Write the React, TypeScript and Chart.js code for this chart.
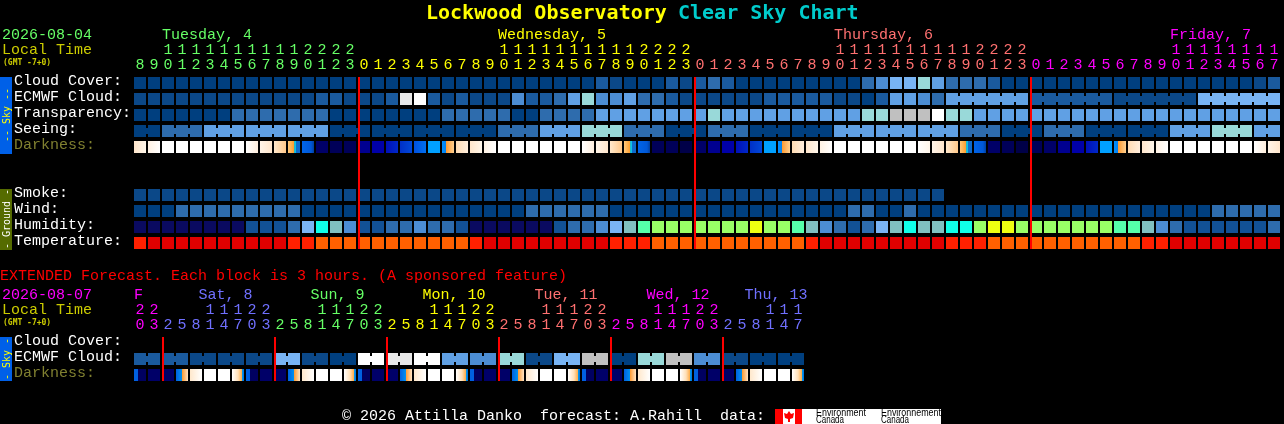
import React, { useEffect, useRef } from "react";
import { Chart, registerables } from "chart.js";

Chart.register(...registerables);

const MONO = '"Liberation Mono", monospace';
const TITLE_FONT = '"DejaVu Sans Mono", monospace';
const GREEN = "#66ff66";
const YELLOW = "#ffff00";
const SALMON = "#ff7070";
const MAGENTA = "#ff00ff";
const BLUE = "#7070ff";
const OLIVE_TEXT = "#cccc00";

const skyPalette = ["#003f7f", "#0b4888", "#1a5a9e", "#2e6cad", "#4c8dd3", "#60a0e4", "#78b4f4", "#99d9d9", "#c0c0c0", "#e8e8e8", "#ffffff"];
const humidityPalette = ["#0a0a60", "#125195", "#2e6cad", "#4c8dd3", "#7ab4f4", "#80c0c0", "#10ffe8", "#55ffaa", "#99ff66", "#eeff11"];
const temperaturePalette = ["#e00000", "#ff2000", "#ff6000"];

type Stops = [number, string][];
const darknessStops: Record<string, Stops> = {
  W: [[0, "#ffffff"], [1, "#ffffff"]],
  m0: [[0, "#ffdcb4"], [1, "#ffeedd"]],
  m1: [[0, "#ffe6cc"], [1, "#fff6ea"]],
  m2: [[0, "#fff2e4"], [1, "#ffffff"]],
  e0: [[0, "#ffffff"], [1, "#fff6ea"]],
  e1: [[0, "#ffffff"], [1, "#ffeedd"]],
  e2: [[0, "#fff4e8"], [1, "#ffe6cc"]],
  e3: [[0, "#ffe8cc"], [1, "#ffc88a"]],
  dusk: [[0, "#ffc87a"], [0.48, "#ffa030"], [0.5, "#30b0c0"], [0.66, "#00c8f0"], [0.67, "#0f6acc"], [1, "#0f6acc"]],
  dusk2: [[0, "#0064e8"], [0.75, "#0058d8"], [1, "#0040a0"]],
  dawn: [[0, "#0090ff"], [0.32, "#0080f0"], [0.34, "#ff9a30"], [1, "#ffd090"]],
  N0: [[0, "#000048"], [1, "#000048"]],
  N1: [[0, "#000058"], [1, "#000058"]],
  N2: [[0, "#000068"], [1, "#000068"]],
  N3: [[0, "#000090"], [1, "#000090"]],
  N4: [[0, "#0000a8"], [1, "#0000a8"]],
  B1: [[0, "#0010b8"], [1, "#0028c8"]],
  B2: [[0, "#0030c8"], [1, "#0048d8"]],
  B3: [[0, "#0050e0"], [1, "#0070f0"]],
  B4: [[0, "#00a0ff"], [1, "#00a0ff"]],
  xDusk: [[0, "#0060e0"], [0.32, "#0060e0"], [0.34, "#000060"], [1, "#000060"]],
  xDawn: [[0, "#0060e0"], [0.48, "#0090f0"], [0.5, "#ff9a30"], [1, "#ffe4c4"]],
  xMorn: [[0, "#ffe8cc"], [1, "#ffffff"]],
  xEve: [[0, "#ffffff"], [0.5, "#ffe0b8"], [0.8, "#ffb050"], [0.83, "#00a0f0"], [1, "#0070e0"]],
};

const hours = [8,9,10,11,12,13,14,15,16,17,18,19,20,21,22,23,
  0,1,2,3,4,5,6,7,8,9,10,11,12,13,14,15,16,17,18,19,20,21,22,23,
  0,1,2,3,4,5,6,7,8,9,10,11,12,13,14,15,16,17,18,19,20,21,22,23,
  0,1,2,3,4,5,6,7,8,9,10,11,12,13,14,15,16,17];
const hourColors = [
  ...Array(16).fill(GREEN), ...Array(24).fill(YELLOW), ...Array(24).fill(SALMON), ...Array(18).fill(MAGENTA),
];

const cloudCover = [
  0,0,0,0,0,0,0,0,0,0, 0,0,0,0,0,0,0,0,0,0, 0,0,0,0,0,0,0,0,0,0,
  0,0,0,2,1,0,0,0,2,1, 2,3,2,0,0,0,0,0,0,0, 0,0,3,4,6,6,7,5,3,3,
  3,2,0,0,0,0,0,0,0,0, 0,0,0,0,0,0,0,0,0,0, 1,2];
const ecmwfCloud = [
  1,1,1,1,1,1,1,1,1,1, 1,1,1,2,2,1,1,1,2,9, 10,2,1,2,1,1,1,4,2,2,
  3,5,7,4,4,5,3,3,2,1, 1,1,1,1,1,2,2,2,2,2, 1,1,0,2,5,5,4,3,5,5,
  5,5,5,5,2,2,2,2,2,2, 1,1,1,1,1,1,6,6,6,6, 6,6];
const transparency = [
  0,0,0,0,0,0,0,3,3,3, 3,3,3,3,0,0,0,0,0,0, 0,0,3,3,3,3,3,0,0,3,
  3,3,3,5,5,5,5,5,5,5, 5,7,5,5,5,5,5,5,5,5, 5,5,7,7,8,8,8,10,7,7,
  5,5,5,5,5,5,5,5,5,5, 5,5,5,5,5,5,5,5,5,5, 5,5];
const seeing = [
  0,0,3,3,3,5,5,5,5,5, 5,5,5,5,0,0,0,0,0,0, 0,0,0,0,0,0,3,3,3,5,
  5,5,7,7,7,3,3,3,0,0, 0,3,3,3,0,0,0,0,0,0, 5,5,5,5,5,5,5,5,5,3,
  3,3,0,0,0,3,3,3,0,0, 0,0,0,0,5,5,5,7,7,7, 5,5];
const darkness = [
  "m1","m2","W","W","W","W","W","W","e1","e2","e3","dusk","dusk2","N2","N1","N1","N3","N4","B1","B2","B3","B4","dawn","m0",
  "m1","m2","W","W","W","W","W","W","e1","e2","e3","dusk","dusk2","N1","N1","N0","N2","N3","N4","B1","B2","B4","dawn","m0",
  "m1","m2","W","W","W","W","W","W","e0","e2","e3","dusk","dusk2","N2","N1","N0","N1","N2","N3","N4","B1","B4","dawn","m0",
  "m1","m2","W","W","W","W","W","W","e1","e2"];
const smoke = [
  1,1,1,1,1,1,1,1,1,1, 1,1,1,1,1,1,1,1,1,1, 1,1,1,1,1,1,1,1,1,1,
  1,1,1,1,1,1,1,1,1,1, 1,1,1,1,1,1,1,1,1,1, 1,1,1,1,1,1,1,1];
const wind = [
  0,0,0,3,3,3,3,3,3,3, 3,3,0,0,0,0,0,0,0,0, 0,0,0,0,0,0,0,0,3,3,
  3,3,3,3,0,0,0,0,0,0, 0,0,0,0,0,0,0,0,0,0, 0,3,3,0,0,3,0,0,0,0,
  0,0,0,0,0,0,0,0,0,0, 0,0,0,0,0,0,0,3,3,3, 3,3];
const humidity = [
  0,0,0,0,0,0,0,0,1,1, 1,2,4,6,5,3,1,1,2,2, 3,2,2,1,0,0,0,0,0,0,
  1,2,2,3,4,5,7,8,8,8, 8,8,8,8,9,8,8,7,5,3, 2,1,2,4,5,6,5,5,6,6,
  8,9,9,8,8,8,8,8,8,8, 7,7,5,3,2,1,1,1,1,1, 1,2];
const temperature = [
  1,0,0,0,0,0,0,0,0,0, 0,1,1,2,2,2,2,2,2,2, 2,2,2,2,1,0,0,0,0,0,
  0,0,0,0,1,1,1,2,2,2, 2,2,2,2,2,2,2,2,1,0, 0,0,0,0,0,0,0,0,1,1,
  1,2,2,2,2,2,2,2,2,2, 2,2,1,1,0,0,0,0,0,0, 0,0];

const seeingGroupStarts = [0,2,5,8,11,14,17,20,23,26,29,32,35,38,41,44,47,50,53,56,59,62,65,68,71,74,77,80];
const ecmwfGroupStarts = [0,1,2,3,4,5,6,7,8,9,10,11,12,13,14,15,16,17,18,19,20,21,22,23,24,25,26,27,28,29,30,31,32,33,34,35,36,37,38,39,40,41,42,43,44,45,46,47,48,49,50,51,52,53,54,55,56,57,58,64,70,76];
const dayBoundaries = [16, 40, 64];
const dayLabels = [
  { text: "Tuesday, 4", col: 2, color: GREEN },
  { text: "Wednesday, 5", col: 26, color: YELLOW },
  { text: "Thursday, 6", col: 50, color: SALMON },
  { text: "Friday, 7", col: 74, color: MAGENTA },
];
const mainRows = ["Cloud Cover:", "ECMWF Cloud:", "Transparency:", "Seeing:", "Darkness:", "", "", "Smoke:", "Wind:", "Humidity:", "Temperature:"];

const extHours = [20,23,
  2,5,8,11,14,17,20,23, 2,5,8,11,14,17,20,23, 2,5,8,11,14,17,20,23,
  2,5,8,11,14,17,20,23, 2,5,8,11,14,17,20,23, 2,5,8,11,14,17];
const extHourColors = [
  ...Array(2).fill(MAGENTA), ...Array(8).fill(BLUE), ...Array(8).fill(GREEN), ...Array(8).fill(YELLOW),
  ...Array(8).fill(SALMON), ...Array(8).fill(MAGENTA), ...Array(6).fill(BLUE),
];
const extEcmwf = [
  2,2, 2,2, 1,1, 1,1, 1,1, 6,6, 1,1, 0,0, 10,10, 9,9, 10,10, 5,5,
  4,4, 7,7, 1,1, 6,6, 8,8, 0,0, 7,7, 8,8, 4,4, 1,1, 0,0, 0,0];
const extDarkness = [
  "xDusk","N2","N2","xDawn","xMorn","W","W","xEve",
  "xDusk","N2","N2","xDawn","xMorn","W","W","xEve",
  "xDusk","N2","N2","xDawn","xMorn","W","W","xEve",
  "xDusk","N2","N2","xDawn","xMorn","W","W","xEve",
  "xDusk","N2","N2","xDawn","xMorn","W","W","xEve",
  "xDusk","N2","N2","xDawn","xMorn","W","W","xEve"];
const extGroupStarts = [0,2,4,6,8,10,12,14,16,18,20,22,24,26,28,30,32,34,36,38,40,42,44,46];
const extBoundaries = [2, 10, 18, 26, 34, 42];
const extDayLabels = [
  { text: "F", col: 0, color: MAGENTA },
  { text: "Sat, 8", col: 4.6, color: BLUE },
  { text: "Sun, 9", col: 12.6, color: GREEN },
  { text: "Mon, 10", col: 20.6, color: YELLOW },
  { text: "Tue, 11", col: 28.6, color: SALMON },
  { text: "Wed, 12", col: 36.6, color: MAGENTA },
  { text: "Thu, 13", col: 43.6, color: BLUE },
];
const extRows = ["Cloud Cover:", "ECMWF Cloud:", "Darkness:"];

const hourTick = (h: number) => [h >= 10 ? String(Math.floor(h / 10)) : "", String(h % 10)];
const CELL = 0.375;
const LABEL_LIFT = 0.1;
const cell = (r: number) => [r - CELL, r + CELL];

function solidRow(label: string, row: number, values: number[], palette: string[]) {
  return {
    label,
    data: values.map(() => cell(row)),
    backgroundColor: values.map((v) => palette[v]),
  };
}

function gradientRow(label: string, row: number, values: string[]) {
  return {
    label,
    data: values.map(() => cell(row)),
    backgroundColor: (c: any) => {
      if (c.type !== "data") return "#000";
      const x = c.chart.scales.x?.getPixelForValue(c.dataIndex);
      if (!Number.isFinite(x)) return "#000";
      const g = c.chart.ctx.createLinearGradient(x - 6, 0, x + 6, 0);
      darknessStops[values[c.dataIndex]].forEach(([o, col]) => g.addColorStop(o, col));
      return g;
    },
  };
}

function text(ctx: any, s: string, x: number, y: number, color: string, font = `15px ${MONO}`, maxW?: number) {
  ctx.fillStyle = color;
  ctx.font = font;
  ctx.textAlign = "left";
  ctx.textBaseline = "alphabetic";
  if (maxW) ctx.fillText(s, x, y, maxW);
  else ctx.fillText(s, x, y);
}

function band(ctx: any, top: number, bottom: number, fill: string, color: string, label: string, labelY: number) {
  ctx.fillStyle = fill;
  ctx.fillRect(0, top, 12, bottom - top);
  ctx.save();
  ctx.translate(9.5, labelY);
  ctx.rotate(-Math.PI / 2);
  ctx.fillStyle = color;
  ctx.font = `10px ${TITLE_FONT}`;
  ctx.textAlign = "center";
  ctx.textBaseline = "alphabetic";
  ctx.fillText(label, 0, 0);
  ctx.restore();
}

function makeChart(
  canvas: HTMLCanvasElement,
  cfg: {
    ticks: string[][]; tickColors: string[]; rows: string[]; datasets: any[]; axisHeight: number;
    bottomPad: number; rightPad: number; bridges: { ds: number; row: number; starts: number[] }[]; boundaries: number[];
    lastRow: number; decorate: (ctx: any, chart: any) => void;
  },
) {
  const rowIdx = cfg.rows.map((_, i) => i).filter((i) => cfg.rows[i] !== "");
  const plugin = {
    id: "skychart",
    beforeDatasetsDraw(chart: any) {
      const ctx = chart.ctx;
      const y = chart.scales.y;
      cfg.bridges.forEach(({ ds, row, starts }) => {
        const els = chart.getDatasetMeta(ds).data;
        els.forEach((el: any, i: number) => {
          if (i + 1 >= els.length || starts.includes(i + 1)) return;
          ctx.fillStyle = el.options.backgroundColor;
          ctx.fillRect(el.x + 6, y.getPixelForValue(row) - 3, 2, 6);
        });
      });
    },
    afterDatasetsDraw(chart: any) {
      const ctx = chart.ctx;
      const { x, y } = chart.scales;
      ctx.fillStyle = "#ff0000";
      const top = y.getPixelForValue(-CELL);
      const bottom = y.getPixelForValue(cfg.lastRow + CELL);
      cfg.boundaries.forEach((b) => {
        ctx.fillRect(x.getPixelForValue(b) - 6, top, 2, bottom - top);
      });
    },
    afterDraw(chart: any) {
      cfg.decorate(chart.ctx, chart);
    },
  };
  return new Chart(canvas, {
    type: "bar",
    data: { labels: cfg.ticks as any, datasets: cfg.datasets },
    plugins: [plugin],
    options: {
      animation: false,
      responsive: false,
      devicePixelRatio: 1,
      events: [],
      layout: { padding: { left: 14, right: cfg.rightPad, top: 0, bottom: cfg.bottomPad } },
      plugins: { legend: { display: false }, tooltip: { enabled: false }, title: { display: false } },
      datasets: { bar: { grouped: false, barThickness: 12, borderWidth: 0, borderSkipped: false, inflateAmount: 0 } as any },
      scales: {
        x: {
          type: "category",
          position: "top",
          offset: true,
          grid: { display: false, drawTicks: false },
          border: { display: false },
          ticks: {
            autoSkip: false, maxRotation: 0, minRotation: 0, padding: 2,
            color: (c: any) => cfg.tickColors[c.index],
            font: { family: MONO, size: 15, lineHeight: 1 },
          },
          afterFit: (s: any) => { s.height = cfg.axisHeight; s.paddingLeft = 0; s.paddingRight = 0; },
        },
        y: {
          type: "linear",
          position: "left",
          reverse: true,
          min: -0.5,
          max: cfg.rows.length - 0.5,
          grid: { display: false, drawTicks: false },
          border: { display: false },
          ticks: {
            autoSkip: false, crossAlign: "far", padding: 0,
            color: (c: any) => (cfg.rows[Math.round(c.tick.value)] === "Darkness:" ? "#808030" : "#ffffff"),
            font: { family: MONO, size: 15 },
            callback: (v: any) => cfg.rows[Math.round(v)] ?? "",
          },
          afterBuildTicks: (s: any) => { s.ticks = rowIdx.map((r) => ({ value: r - LABEL_LIFT })); },
          afterFit: (s: any) => { s.width = 119; s.paddingTop = 0; s.paddingBottom = 0; },
        },
      },
    },
  });
}

export default function App() {
  const mainRef = useRef<HTMLCanvasElement>(null);
  const extRef = useRef<HTMLCanvasElement>(null);

  useEffect(() => {
    document.body.style.margin = "0";
    document.body.style.background = "#000";
    const EXT_TOP = 251;

    const main = makeChart(mainRef.current!, {
      ticks: hours.map(hourTick),
      tickColors: hourColors,
      rows: mainRows,
      axisHeight: 75,
      bottomPad: 0,
      rightPad: 3,
      lastRow: 10,
      boundaries: dayBoundaries,
      bridges: [{ ds: 1, row: 1, starts: ecmwfGroupStarts }, { ds: 3, row: 3, starts: seeingGroupStarts }],
      datasets: [
        solidRow("Cloud Cover", 0, cloudCover, skyPalette),
        solidRow("ECMWF Cloud", 1, ecmwfCloud, skyPalette),
        solidRow("Transparency", 2, transparency, skyPalette),
        solidRow("Seeing", 3, seeing, skyPalette),
        gradientRow("Darkness", 4, darkness),
        solidRow("Smoke", 7, smoke, skyPalette),
        solidRow("Wind", 8, wind, skyPalette),
        solidRow("Humidity", 9, humidity, humidityPalette),
        solidRow("Temperature", 10, temperature, temperaturePalette),
      ],
      decorate(ctx, chart) {
        text(ctx, "Lockwood Observatory", 426, 19, "#ffff00", `bold 20px ${TITLE_FONT}`);
        text(ctx, "Clear Sky Chart", 678, 19, "#00cccc", `bold 20px ${TITLE_FONT}`);
        text(ctx, "2026-08-04", 2, 39, GREEN);
        text(ctx, "Local Time", 2, 54, OLIVE_TEXT);
        text(ctx, "(GMT -7+0)", 3, 65, OLIVE_TEXT, `bold 8px ${TITLE_FONT}`);
        dayLabels.forEach((d) => text(ctx, d.text, chart.scales.x.getPixelForValue(d.col) - 6, 39, d.color));
        band(ctx, 77, 154, "#0060e8", "#ffff00", "-- Sky --", 115);
        band(ctx, 189, 250, "#556b00", "#ffffff", "- Ground -", 219);
      },
    });

    const ext = makeChart(extRef.current!, {
      ticks: extHours.map(hourTick),
      tickColors: extHourColors,
      rows: extRows,
      axisHeight: 335 - EXT_TOP,
      bottomPad: 41,
      rightPad: 479,
      lastRow: 2,
      boundaries: extBoundaries,
      bridges: [{ ds: 0, row: 1, starts: extGroupStarts }],
      datasets: [
        solidRow("ECMWF Cloud", 1, extEcmwf, skyPalette),
        gradientRow("Darkness", 2, extDarkness),
      ],
      decorate(ctx, chart) {
        ctx.save();
        ctx.translate(0, -EXT_TOP);
        text(ctx, "EXTENDED Forecast. Each block is 3 hours. (A sponsored feature)", 0, 280, "#ff0000");
        text(ctx, "2026-08-07", 2, 299, MAGENTA);
        text(ctx, "Local Time", 2, 314, OLIVE_TEXT);
        text(ctx, "(GMT -7+0)", 3, 325, OLIVE_TEXT, `bold 8px ${TITLE_FONT}`);
        extDayLabels.forEach((d) => text(ctx, d.text, chart.scales.x.getPixelForValue(d.col) - 6, 299, d.color));
        band(ctx, 337, 381, "#0060e8", "#ffff00", "- Sky -", 359);
        text(ctx, "\u00a9 2026 Attilla Danko  forecast: A.Rahill  data:", 342, 420, "#ffffff");
        ctx.fillStyle = "#ffffff";
        ctx.fillRect(775, 409, 166, 15);
        ctx.fillStyle = "#ff0000";
        ctx.fillRect(775, 409, 8, 15);
        ctx.fillRect(795, 409, 7, 15);
        ctx.beginPath();
        [[789, 411], [791, 414], [794, 413], [793, 418], [790, 419], [790, 422], [788, 422], [788, 419], [785, 418], [784, 413], [787, 414]].forEach(
          ([px, py], i) => (i ? ctx.lineTo(px, py) : ctx.moveTo(px, py)),
        );
        ctx.closePath();
        ctx.fill();
        const small = `10px "Liberation Sans"`;
        text(ctx, "Environment", 816, 416, "#000000", small, 50);
        text(ctx, "Canada", 816, 423, "#000000", small, 28);
        text(ctx, "Environnement", 881, 416, "#000000", small, 60);
        text(ctx, "Canada", 881, 423, "#000000", small, 28);
        ctx.restore();
      },
    });

    return () => {
      main.destroy();
      ext.destroy();
    };
  }, []);

  return (
    <div style={{ position: "fixed", left: 0, top: 0, width: 1284, height: 424, background: "#000", overflow: "hidden" }}>
      <canvas ref={mainRef} width={1284} height={251} style={{ position: "absolute", left: 0, top: 0, display: "block" }} />
      <canvas ref={extRef} width={1284} height={173} style={{ position: "absolute", left: 0, top: 251, display: "block" }} />
    </div>
  );
}
